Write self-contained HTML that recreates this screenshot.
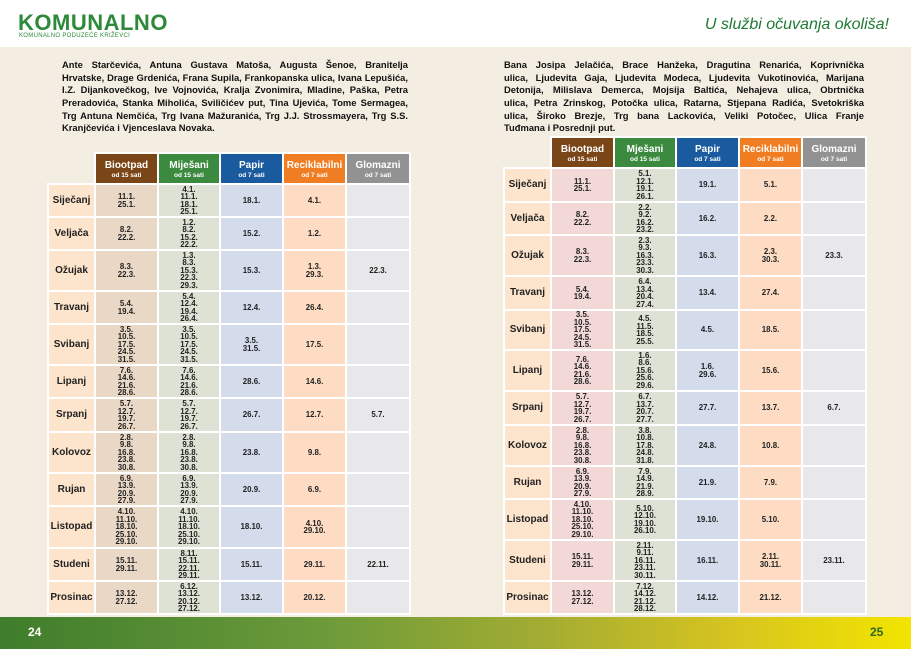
<!DOCTYPE html>
<html><head><meta charset="utf-8"><style>
*{margin:0;padding:0;box-sizing:border-box}
body{width:911px;height:649px;position:relative;overflow:hidden;background:#f4eee2;font-family:"Liberation Sans",sans-serif}
.top{position:absolute;left:0;top:0;width:911px;height:47px;background:#fff}
.logo{position:absolute;left:18px;top:10px;font:bold 22px "Liberation Sans",sans-serif;color:#2e8a3a;letter-spacing:0.5px}
.sub{position:absolute;left:19px;top:33px;font-size:6px;color:#2e8a3a;letter-spacing:0.3px}
.slogan{position:absolute;right:22px;top:16px;font:italic 16px "Liberation Sans",sans-serif;color:#1f7a34}
.foot{position:absolute;left:0;top:617px;width:911px;height:32px;background:linear-gradient(90deg,#3f7d2c 0%,#6b9a3a 35%,#a4ad32 60%,#d6c420 80%,#f3e400 100%)}
.pn{position:absolute;top:625px;font:bold 12px "Liberation Sans",sans-serif}
div.t{position:absolute;width:346px;font:bold 9.4px/12.7px "Liberation Sans",sans-serif;color:#111}
div.t span{display:block;text-align:justify;text-align-last:justify;white-space:nowrap;height:12.7px}
div.t span.l{text-align-last:left}
table{position:absolute;border-collapse:collapse;table-layout:fixed}
td,th{border:2px solid #fff;text-align:center;vertical-align:middle;font:bold 7.9px/7.5px "Liberation Sans",sans-serif;color:#222;padding:0;overflow:hidden}
th{color:#fff;font-size:10px;line-height:11px;padding-top:2px;white-space:nowrap}
th small{display:block;font-size:6.5px;line-height:9px;font-weight:bold}
th.e{background:transparent;border:none}
td.m{background:#fde4cd;font-size:10px;line-height:10px;color:#222}
.c1{background:#ead8c6}.c1r{background:#f2d9d8}.c2{background:#dde2d4}.c3{background:#d4dbeb}.c4{background:#fddcc3}.c5{background:#e8e8ea}
.h1{background:#7a4618}.h2{background:#3c8a40}.h3{background:#1a5a9f}.h4{background:#f07d22}.h5{background:#929292}
</style></head><body>
<div class="top"></div>
<div class="logo">KOMUNALNO</div>
<div class="sub">KOMUNALNO PODUZEĆE KRIŽEVCI</div>
<div class="slogan">U službi očuvanja okoliša!</div>

<div class="t" style="left:62px;top:59px">
<span>Ante Starčevića, Antuna Gustava Matoša, Augusta Šenoe, Branitelja</span>
<span>Hrvatske, Drage Grdenića, Frana Supila, Frankopanska ulica, Ivana Lepušića,</span>
<span>I.Z. Dijankovečkog, Ive Vojnovića, Kralja Zvonimira, Mladine, Paška, Petra</span>
<span>Preradovića, Stanka Miholića, Sviličićev put, Tina Ujevića, Tome Sermagea,</span>
<span>Trg Antuna Nemčića, Trg Ivana Mažuranića, Trg J.J. Strossmayera, Trg S.S.</span>
<span class="l">Kranjčevića i Vjenceslava Novaka.</span>
</div>
<div class="t" style="left:504px;top:59px;width:360px">
<span>Bana Josipa Jelačića, Brace Hanžeka, Dragutina Renarića, Koprivnička</span>
<span>ulica, Ljudevita Gaja, Ljudevita Modeca, Ljudevita Vukotinovića, Marijana</span>
<span>Detonija, Milislava Demerca, Mojsija Baltića, Nehajeva ulica, Obrtnička</span>
<span>ulica, Petra Zrinskog, Potočka ulica, Ratarna, Stjepana Radića, Svetokriška</span>
<span>ulica, Široko Brezje, Trg bana Lackovića, Veliki Potočec, Ulica Franje</span>
<span class="l">Tuđmana i Posrednji put.</span>
</div>

<table style="left:47px;top:152px;width:362px">
<colgroup><col style="width:47px"><col style="width:63px"><col style="width:62px"><col style="width:63px"><col style="width:63px"><col style="width:64px"></colgroup>
<tr style="height:31px"><th class="e"></th><th class="h1">Biootpad<small>od 15 sati</small></th><th class="h2">Miješani<small>od 15 sati</small></th><th class="h3">Papir<small>od 7 sati</small></th><th class="h4">Reciklabilni<small>od 7 sati</small></th><th class="h5">Glomazni<small>od 7 sati</small></th></tr>
<tr style="height:33px"><td class="m">Siječanj</td><td class="c1">11.1.<br>25.1.</td><td class="c2">4.1.<br>11.1.<br>18.1.<br>25.1.</td><td class="c3">18.1.</td><td class="c4">4.1.</td><td class="c5"></td></tr>
<tr style="height:33px"><td class="m">Veljača</td><td class="c1">8.2.<br>22.2.</td><td class="c2">1.2.<br>8.2.<br>15.2.<br>22.2.</td><td class="c3">15.2.</td><td class="c4">1.2.</td><td class="c5"></td></tr>
<tr style="height:41px"><td class="m">Ožujak</td><td class="c1">8.3.<br>22.3.</td><td class="c2">1.3.<br>8.3.<br>15.3.<br>22.3.<br>29.3.</td><td class="c3">15.3.</td><td class="c4">1.3.<br>29.3.</td><td class="c5">22.3.</td></tr>
<tr style="height:33px"><td class="m">Travanj</td><td class="c1">5.4.<br>19.4.</td><td class="c2">5.4.<br>12.4.<br>19.4.<br>26.4.</td><td class="c3">12.4.</td><td class="c4">26.4.</td><td class="c5"></td></tr>
<tr style="height:41px"><td class="m">Svibanj</td><td class="c1">3.5.<br>10.5.<br>17.5.<br>24.5.<br>31.5.</td><td class="c2">3.5.<br>10.5.<br>17.5.<br>24.5.<br>31.5.</td><td class="c3">3.5.<br>31.5.</td><td class="c4">17.5.</td><td class="c5"></td></tr>
<tr style="height:33px"><td class="m">Lipanj</td><td class="c1">7.6.<br>14.6.<br>21.6.<br>28.6.</td><td class="c2">7.6.<br>14.6.<br>21.6.<br>28.6.</td><td class="c3">28.6.</td><td class="c4">14.6.</td><td class="c5"></td></tr>
<tr style="height:34px"><td class="m">Srpanj</td><td class="c1">5.7.<br>12.7.<br>19.7.<br>26.7.</td><td class="c2">5.7.<br>12.7.<br>19.7.<br>26.7.</td><td class="c3">26.7.</td><td class="c4">12.7.</td><td class="c5">5.7.</td></tr>
<tr style="height:41px"><td class="m">Kolovoz</td><td class="c1">2.8.<br>9.8.<br>16.8.<br>23.8.<br>30.8.</td><td class="c2">2.8.<br>9.8.<br>16.8.<br>23.8.<br>30.8.</td><td class="c3">23.8.</td><td class="c4">9.8.</td><td class="c5"></td></tr>
<tr style="height:33px"><td class="m">Rujan</td><td class="c1">6.9.<br>13.9.<br>20.9.<br>27.9.</td><td class="c2">6.9.<br>13.9.<br>20.9.<br>27.9.</td><td class="c3">20.9.</td><td class="c4">6.9.</td><td class="c5"></td></tr>
<tr style="height:42px"><td class="m">Listopad</td><td class="c1">4.10.<br>11.10.<br>18.10.<br>25.10.<br>29.10.</td><td class="c2">4.10.<br>11.10.<br>18.10.<br>25.10.<br>29.10.</td><td class="c3">18.10.</td><td class="c4">4.10.<br>29.10.</td><td class="c5"></td></tr>
<tr style="height:33px"><td class="m">Studeni</td><td class="c1">15.11.<br>29.11.</td><td class="c2">8.11.<br>15.11.<br>22.11.<br>29.11.</td><td class="c3">15.11.</td><td class="c4">29.11.</td><td class="c5">22.11.</td></tr>
<tr style="height:33px"><td class="m">Prosinac</td><td class="c1">13.12.<br>27.12.</td><td class="c2">6.12.<br>13.12.<br>20.12.<br>27.12.</td><td class="c3">13.12.</td><td class="c4">20.12.</td><td class="c5"></td></tr>
</table>

<table style="left:503px;top:136px;width:362px">
<colgroup><col style="width:47px"><col style="width:63px"><col style="width:62px"><col style="width:63px"><col style="width:63px"><col style="width:64px"></colgroup>
<tr style="height:31px"><th class="e"></th><th class="h1">Biootpad<small>od 15 sati</small></th><th class="h2">Mješani<small>od 15 sati</small></th><th class="h3">Papir<small>od 7 sati</small></th><th class="h4">Reciklabilni<small>od 7 sati</small></th><th class="h5">Glomazni<small>od 7 sati</small></th></tr>
<tr style="height:34px"><td class="m">Siječanj</td><td class="c1r">11.1.<br>25.1.</td><td class="c2">5.1.<br>12.1.<br>19.1.<br>26.1.</td><td class="c3">19.1.</td><td class="c4">5.1.</td><td class="c5"></td></tr>
<tr style="height:33px"><td class="m">Veljača</td><td class="c1r">8.2.<br>22.2.</td><td class="c2">2.2.<br>9.2.<br>16.2.<br>23.2.</td><td class="c3">16.2.</td><td class="c4">2.2.</td><td class="c5"></td></tr>
<tr style="height:41px"><td class="m">Ožujak</td><td class="c1r">8.3.<br>22.3.</td><td class="c2">2.3.<br>9.3.<br>16.3.<br>23.3.<br>30.3.</td><td class="c3">16.3.</td><td class="c4">2.3.<br>30.3.</td><td class="c5">23.3.</td></tr>
<tr style="height:34px"><td class="m">Travanj</td><td class="c1r">5.4.<br>19.4.</td><td class="c2">6.4.<br>13.4.<br>20.4.<br>27.4.</td><td class="c3">13.4.</td><td class="c4">27.4.</td><td class="c5"></td></tr>
<tr style="height:40px"><td class="m">Svibanj</td><td class="c1r">3.5.<br>10.5.<br>17.5.<br>24.5.<br>31.5.</td><td class="c2">4.5.<br>11.5.<br>18.5.<br>25.5.</td><td class="c3">4.5.</td><td class="c4">18.5.</td><td class="c5"></td></tr>
<tr style="height:41px"><td class="m">Lipanj</td><td class="c1r">7.6.<br>14.6.<br>21.6.<br>28.6.</td><td class="c2">1.6.<br>8.6.<br>15.6.<br>25.6.<br>29.6.</td><td class="c3">1.6.<br>29.6.</td><td class="c4">15.6.</td><td class="c5"></td></tr>
<tr style="height:34px"><td class="m">Srpanj</td><td class="c1r">5.7.<br>12.7.<br>19.7.<br>26.7.</td><td class="c2">6.7.<br>13.7.<br>20.7.<br>27.7.</td><td class="c3">27.7.</td><td class="c4">13.7.</td><td class="c5">6.7.</td></tr>
<tr style="height:41px"><td class="m">Kolovoz</td><td class="c1r">2.8.<br>9.8.<br>16.8.<br>23.8.<br>30.8.</td><td class="c2">3.8.<br>10.8.<br>17.8.<br>24.8.<br>31.8.</td><td class="c3">24.8.</td><td class="c4">10.8.</td><td class="c5"></td></tr>
<tr style="height:33px"><td class="m">Rujan</td><td class="c1r">6.9.<br>13.9.<br>20.9.<br>27.9.</td><td class="c2">7.9.<br>14.9.<br>21.9.<br>28.9.</td><td class="c3">21.9.</td><td class="c4">7.9.</td><td class="c5"></td></tr>
<tr style="height:41px"><td class="m">Listopad</td><td class="c1r">4.10.<br>11.10.<br>18.10.<br>25.10.<br>29.10.</td><td class="c2">5.10.<br>12.10.<br>19.10.<br>26.10.</td><td class="c3">19.10.</td><td class="c4">5.10.</td><td class="c5"></td></tr>
<tr style="height:41px"><td class="m">Studeni</td><td class="c1r">15.11.<br>29.11.</td><td class="c2">2.11.<br>9.11.<br>16.11.<br>23.11.<br>30.11.</td><td class="c3">16.11.</td><td class="c4">2.11.<br>30.11.</td><td class="c5">23.11.</td></tr>
<tr style="height:33px"><td class="m">Prosinac</td><td class="c1r">13.12.<br>27.12.</td><td class="c2">7.12.<br>14.12.<br>21.12.<br>28.12.</td><td class="c3">14.12.</td><td class="c4">21.12.</td><td class="c5"></td></tr>
</table>

<div class="foot"></div>
<div class="pn" style="left:28px;color:#fff">24</div>
<div class="pn" style="left:870px;color:#2f6a1e">25</div>
</body></html>
